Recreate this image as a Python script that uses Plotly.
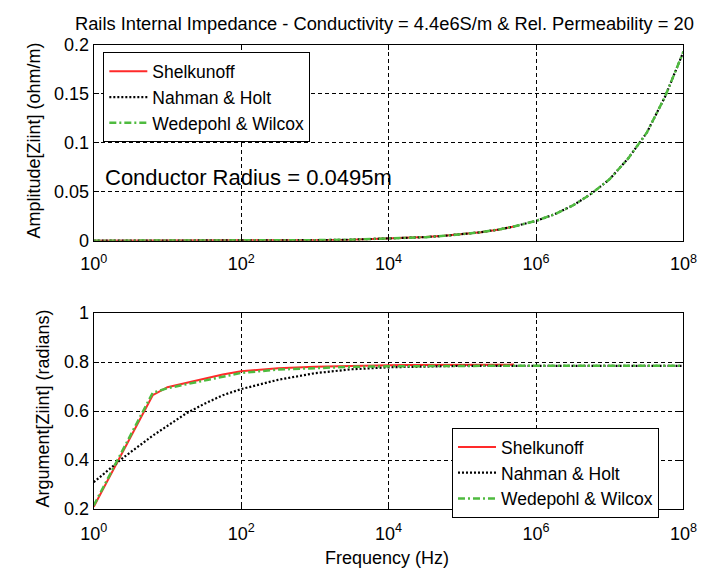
import plotly.graph_objects as go

# ---------------- data ----------------
freq_hz = [1, 1.585, 2.512, 3.981, 6.31, 10, 17.78, 31.62, 56.23, 100,
           316.2, 1000, 3162, 1e4, 1.778e4, 3.162e4, 5.623e4, 1e5, 1.778e5,
           3.162e5, 5.012e5, 1e6, 1.778e6, 3.162e6, 5.623e6, 1e7, 1.778e7,
           3.162e7, 5.623e7, 1e8]
n_shel = 21  # Shelkunoff curve stops near 5e5 Hz

amp_shelkunoff = [0.00003, 0.00003, 0.00003, 0.00003, 0.00004, 0.00004, 0.00005,
                  0.00007, 0.00009, 0.00012, 0.0002, 0.0006, 0.0011, 0.0022,
                  0.0029, 0.0038, 0.0051, 0.0066, 0.0087, 0.0115, 0.0145]
amp_nahman = [0.00003, 0.00003, 0.00003, 0.00003, 0.00004, 0.00004, 0.00005,
              0.00007, 0.00009, 0.00012, 0.0002, 0.0006, 0.0011, 0.0021,
              0.0028, 0.0037, 0.0050, 0.0066, 0.0087, 0.0115, 0.0145, 0.0203,
              0.027, 0.036, 0.048, 0.063, 0.084, 0.110, 0.147, 0.193]
amp_wedepohl = [0.00003, 0.00003, 0.00003, 0.00003, 0.00004, 0.00004, 0.00005,
                0.00007, 0.00009, 0.00012, 0.0002, 0.0006, 0.0011, 0.0021,
                0.0028, 0.0037, 0.0050, 0.0066, 0.0087, 0.0115, 0.0145, 0.0203,
                0.027, 0.036, 0.048, 0.063, 0.084, 0.110, 0.147, 0.193]

arg_shelkunoff = [0.21, 0.323, 0.437, 0.55, 0.665, 0.698, 0.716, 0.735, 0.75,
                  0.763, 0.775, 0.781, 0.785, 0.787, 0.788, 0.788, 0.789,
                  0.789, 0.79, 0.79, 0.79]
arg_nahman = [0.31, 0.36, 0.41, 0.455, 0.5, 0.54, 0.59, 0.63, 0.665, 0.69,
              0.728, 0.755, 0.771, 0.779, 0.781, 0.783, 0.784, 0.785, 0.785,
              0.785, 0.785, 0.785, 0.785, 0.785, 0.785, 0.785, 0.785, 0.785,
              0.785, 0.785]
arg_wedepohl = [0.215, 0.33, 0.445, 0.56, 0.675, 0.694, 0.71, 0.727, 0.742,
                0.756, 0.77, 0.777, 0.781, 0.783, 0.784, 0.784, 0.785, 0.785,
                0.785, 0.785, 0.785, 0.785, 0.785, 0.785, 0.785, 0.785, 0.785,
                0.785, 0.785, 0.785]

series_names = ["Shelkunoff", "Nahman & Holt", "Wedepohl & Wilcox"]
x_tickvals = [1, 1e2, 1e4, 1e6, 1e8]
x_ticktext = ["10<sup>0</sup>", "10<sup>2</sup>", "10<sup>4</sup>",
              "10<sup>6</sup>", "10<sup>8</sup>"]
amp_ticks = [0, 0.05, 0.1, 0.15, 0.2]
amp_ticktext = ["0", "0.05", "0.1", "0.15", "0.2"]
arg_ticks = [0.2, 0.4, 0.6, 0.8, 1.0]
arg_ticktext = ["0.2", "0.4", "0.6", "0.8", "1"]

title_text = "Rails Internal Impedance - Conductivity = 4.4e6S/m & Rel. Permeability = 20"
radius_text = "Conductor Radius = 0.0495m"

# ---------------- styling ----------------
W, H = 709, 580
FONT = "Liberation Sans, Arial, sans-serif"
RED = "#ff2a2a"
BLACK = "#000000"
GREEN = "#4fbb3f"

def px(x):
    return x / W

def py(y):
    return 1 - y / H

fig = go.Figure()

styles = [
    dict(color=RED, width=2, dash="solid"),
    dict(color=BLACK, width=2.2, dash="2px,2px"),
    dict(color=GREEN, width=2.5, dash="7px,3px,2px,3px"),
]

amp_data = [(freq_hz[:n_shel], amp_shelkunoff), (freq_hz, amp_nahman), (freq_hz, amp_wedepohl)]
arg_data = [(freq_hz[:n_shel], arg_shelkunoff), (freq_hz, arg_nahman), (freq_hz, arg_wedepohl)]

for i, (xs, ys) in enumerate(amp_data):
    fig.add_trace(go.Scatter(x=xs, y=ys, mode="lines", name=series_names[i],
                             line=styles[i], xaxis="x", yaxis="y",
                             legend="legend", showlegend=True))
for i, (xs, ys) in enumerate(arg_data):
    fig.add_trace(go.Scatter(x=xs, y=ys, mode="lines", name=series_names[i],
                             line=styles[i], xaxis="x2", yaxis="y2",
                             legend="legend2", showlegend=True))

axis_common = dict(
    showline=True, linecolor="black", linewidth=1, mirror="ticks",
    ticks="inside", ticklen=5, tickcolor="black", tickwidth=1,
    showgrid=True, gridcolor="black", gridwidth=1, griddash="4px,3px",
    zeroline=False, tickfont=dict(family=FONT, size=18, color="black"),
    ticklabeloverflow="allow",
)

x_dom = [px(83), px(697)]
legend_common = dict(xanchor="left", yanchor="top",
                     bgcolor="white", bordercolor="black", borderwidth=1,
                     font=dict(family=FONT, size=17.5, color="black"),
                     itemwidth=38, traceorder="normal", tracegroupgap=0)
fig.update_layout(
    width=W, height=H,
    margin=dict(l=0, r=0, t=0, b=0),
    paper_bgcolor="white", plot_bgcolor="white",
    font=dict(family=FONT, size=18, color="black"),
    xaxis=dict(axis_common, type="log", range=[0, 8], domain=x_dom,
               tickvals=x_tickvals, ticktext=x_ticktext, anchor="y",
               ticklabelstandoff=7),
    yaxis=dict(axis_common, range=[0, 0.2], domain=[py(239), py(36)],
               tickvals=amp_ticks, ticktext=amp_ticktext, anchor="x"),
    xaxis2=dict(axis_common, type="log", range=[0, 8], domain=x_dom,
                tickvals=x_tickvals, ticktext=x_ticktext, anchor="y2",
                ticklabelstandoff=8),
    yaxis2=dict(axis_common, range=[0.2, 1.0], domain=[py(517), py(314)],
                tickvals=arg_ticks, ticktext=arg_ticktext, anchor="x2"),
    legend=dict(legend_common, x=px(93), y=py(44)),
    legend2=dict(legend_common, x=px(456), y=py(433)),
    showlegend=True,
)

annos = [
    dict(text=title_text, x=px(386), y=py(14), xref="paper", yref="paper",
         showarrow=False, xanchor="center", yanchor="middle",
         font=dict(family=FONT, size=18.3, color="black")),
    dict(text=radius_text, x=px(93), y=py(173), xref="paper", yref="paper",
         showarrow=False, xanchor="left", yanchor="middle",
         font=dict(family=FONT, size=22, color="black")),
    dict(text="Amplitude[Ziint] (ohm/m)", x=px(21), y=py(135), xref="paper", yref="paper",
         showarrow=False, xanchor="center", yanchor="middle", textangle=-90,
         font=dict(family=FONT, size=18, color="black")),
    dict(text="Argument[Ziint] (radians)", x=px(30), y=py(413), xref="paper", yref="paper",
         showarrow=False, xanchor="center", yanchor="middle", textangle=-90,
         font=dict(family=FONT, size=18, color="black")),
    dict(text="Frequency (Hz)", x=px(388), y=py(568), xref="paper", yref="paper",
         showarrow=False, xanchor="center", yanchor="middle",
         font=dict(family=FONT, size=18, color="black")),
]
fig.update_layout(annotations=annos)

fig.write_html("out.html")
